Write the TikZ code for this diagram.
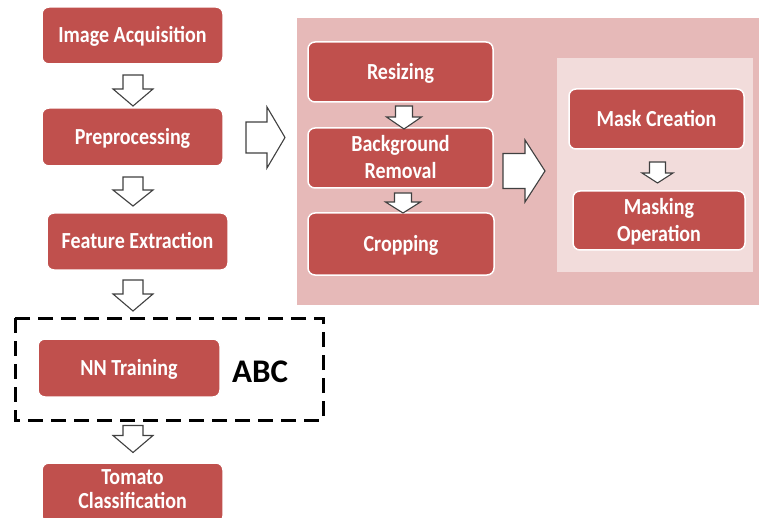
\documentclass[tikz,border=0pt]{standalone}
\usepackage{fontspec}
\usepackage{graphicx}
\setmainfont{Carlito}
\definecolor{boxred}{HTML}{C0504D}
\definecolor{panelpink}{HTML}{E6B9B8}
\definecolor{panellight}{HTML}{F2DCDB}
\definecolor{arrowline}{HTML}{404040}
% step labels are set in a slightly tall, narrow style; the optional argument nudges them vertically
\newcommand\steplabel[2][-2pt]{\raisebox{#1}[\height][\depth]{\scalebox{1}[1.15]{\begin{tabular}{@{}c@{}}#2\end{tabular}}}}
\begin{document}
\begin{tikzpicture}[x=1pt,y=-1pt,
  stage/.style={rectangle, rounded corners=7pt, fill=boxred, draw=white, line width=1.5pt,
    text=white, font=\bfseries\fontsize{20}{23.5}\selectfont, align=center, inner sep=0pt},
  arrowbody/.style={draw=arrowline, fill=white, line width=1.1pt, line join=miter},
  % block arrow pointing along +x: length, total width, shaft width, head length
  pics/blockarrow/.style n args={4}{code={
    \draw[arrowbody] (-#1/2,-#3/2) -- (#1/2-#4,-#3/2) -- (#1/2-#4,-#2/2) -- (#1/2,0)
      -- (#1/2-#4,#2/2) -- (#1/2-#4,#3/2) -- (-#1/2,#3/2) -- cycle;
  }}]
\useasboundingbox (0,0) rectangle (759,518);
\clip (0,0) rectangle (759,518);

% preprocessing detail panels
\fill[panelpink] (297,18) rectangle (770,305);
\fill[panellight] (557,58) rectangle (753,272);

% main pipeline
\node[stage, minimum width=181, minimum height=57] (ia) at (132.5,35.5) {\steplabel{Image Acquisition}};
\node[stage, minimum width=181, minimum height=58] (pre) at (132.5,137) {\steplabel{Preprocessing}};
\node[stage, minimum width=181, minimum height=57] (fe) at (137.5,241.5) {\steplabel{Feature Extraction}};
\node[stage, minimum width=182, minimum height=58] (nn) at (129,368) {\steplabel{NN Training}};
\node[stage, minimum width=181, minimum height=60, font=\bfseries\fontsize{20}{21}\selectfont] (tc) at (132.5,493) {\steplabel[1pt]{Tomato\\Classification}};

% highlighted training step
\draw[black, line width=3pt, dash pattern=on 15pt off 8pt] (15,318) rectangle (323,420);
\node[font=\bfseries\fontsize{33}{36}\selectfont, text=black] (abc) at (260,372) {ABC};

% preprocessing sub-steps
\node[stage, minimum width=185, minimum height=60] (rs) at (400.5,72) {\steplabel{Resizing}};
\node[stage, minimum width=185, minimum height=60] (bg) at (400.5,158) {\steplabel{Background\\Removal}};
\node[stage, minimum width=186, minimum height=62] (cr) at (401,244) {\steplabel{Cropping}};
\node[stage, minimum width=175, minimum height=60] (mc) at (656.5,119) {\steplabel{Mask Creation}};
\node[stage, minimum width=172, minimum height=59] (mo) at (659,220.5) {\steplabel{Masking\\Operation}};

% flow arrows
\pic[rotate=-90] (a1) at (133,90.5) {blockarrow={31}{40}{20}{17}};
\pic[rotate=-90] (a2) at (133,191.5) {blockarrow={29}{40}{20}{16}};
\pic[rotate=-90] (a3) at (133,295.5) {blockarrow={31}{40}{20}{17}};
\pic[rotate=-90] (a4) at (133,439) {blockarrow={27}{40}{20}{17}};
\pic (r1) at (265.5,137.5) {blockarrow={39}{61}{31}{18}};
\pic (r2) at (524,171) {blockarrow={42}{62}{35}{20}};
\pic[rotate=-90] (s1) at (404,117.5) {blockarrow={23}{35}{17}{12}};
\pic[rotate=-90] (s2) at (403,203) {blockarrow={20}{35}{17}{11}};
\pic[rotate=-90] (s3) at (657.5,172.5) {blockarrow={21}{31}{16}{10}};
\end{tikzpicture}
\end{document}
